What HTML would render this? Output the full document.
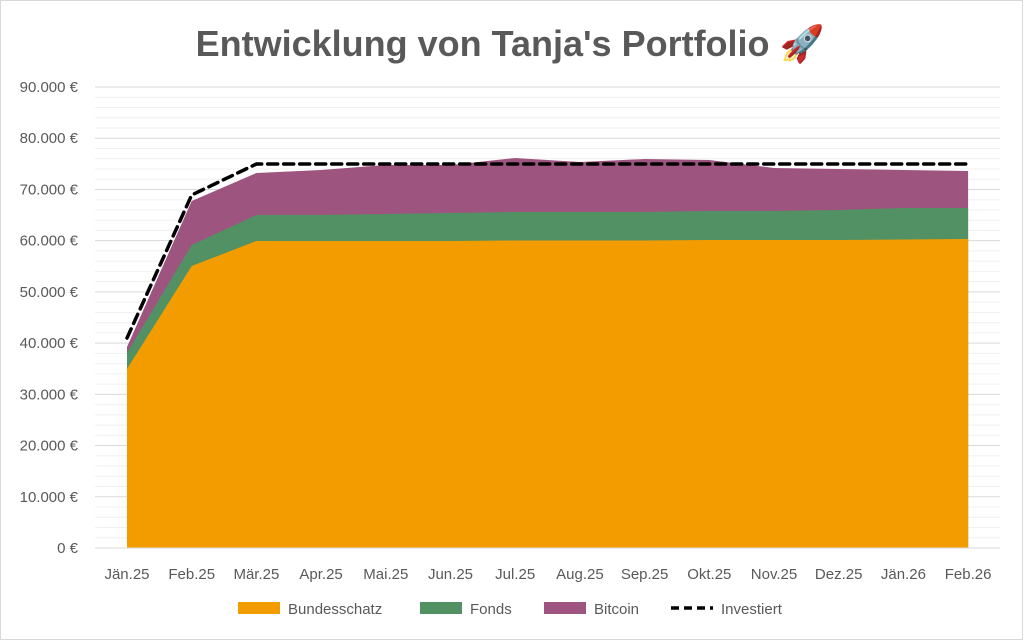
<!DOCTYPE html>
<html><head><meta charset="utf-8"><style>
body{margin:0;background:#fff}
svg{display:block;font-family:"Liberation Sans",sans-serif}
</style></head><body>
<svg width="1024" height="641" viewBox="0 0 1024 641">
<rect x="0.5" y="0.5" width="1022" height="639" fill="#fff" stroke="#d9d9d9"/>
<text x="510" y="56" text-anchor="middle" font-size="36" font-weight="bold" fill="#595959">Entwicklung von Tanja's Portfolio 🚀</text>
<g id="grid"></g>
<g id="ylab" font-size="15" fill="#595959" text-anchor="end"></g>
<polygon id="pur" fill="#9d5580"/>
<polygon id="grn" fill="#529163"/>
<polygon id="org" fill="#f39c00"/>
<polyline id="inv" fill="none" stroke="#000" stroke-width="3.5" stroke-dasharray="10,6" stroke-linecap="round"/>
<line x1="95" y1="548" x2="1000" y2="548" stroke="#d9d9d9"/>
<g id="xlab" font-size="15" fill="#595959" text-anchor="middle"></g>
<g font-size="15" fill="#595959">
<rect x="238" y="602" width="42" height="12" fill="#f39c00"/><text x="288" y="614">Bundesschatz</text>
<rect x="420" y="602" width="42" height="12" fill="#529163"/><text x="470" y="614">Fonds</text>
<rect x="544" y="602" width="42" height="12" fill="#9d5580"/><text x="594" y="614">Bitcoin</text>
<line x1="671" y1="608" x2="713" y2="608" stroke="#000" stroke-width="3.5" stroke-dasharray="8,5"/><text x="721" y="614">Investiert</text>
</g>
</svg>
<script>
var ns="http://www.w3.org/2000/svg";
function el(t,a,p,txt){var e=document.createElementNS(ns,t);for(var k in a)e.setAttribute(k,a[k]);if(txt)e.textContent=txt;document.getElementById(p).appendChild(e);}
for(var i=0;i<=45;i++){var y=548-i*10.244;var maj=i%5==0;
if(i>0)el("line",{x1:95,x2:1000,y1:y,y2:y,stroke:maj?"#d9d9d9":"#f0f0f0","stroke-width":1},"grid");
if(maj){var v=i*2000;el("text",{x:78,y:y+5},"ylab",v==0?"0 €":(v/1000)+".000 €");}}
var m=["Jän.25","Feb.25","Mär.25","Apr.25","Mai.25","Jun.25","Jul.25","Aug.25","Sep.25","Okt.25","Nov.25","Dez.25","Jän.26","Feb.26"];
var X=m.map(function(_,i){return 127+i*64.7});
m.forEach(function(s,i){el("text",{x:X[i],y:579},"xlab",s)});
var o=[369,266,241,241,241,241,240.5,240.5,240.5,240,240,240,239.5,239];
var g=[353,245,215,215,214,213,212,212,212,211,211,210,208,208];
var p=[347,201,173,170,165,165,158,162,159,160,168,169,170,171];
var inv=[338,195,164,164,164,164,164,164,164,164,164,164,164,164];
function poly(id,a){var s=a.map(function(y,i){return X[i]+","+y}).join(" ");s+=" "+X[13]+",548 "+X[0]+",548";document.getElementById(id).setAttribute("points",s);}
poly("pur",p);poly("grn",g);poly("org",o);
document.getElementById("inv").setAttribute("points",inv.map(function(y,i){return X[i]+","+y}).join(" "));
</script>
</body></html>
